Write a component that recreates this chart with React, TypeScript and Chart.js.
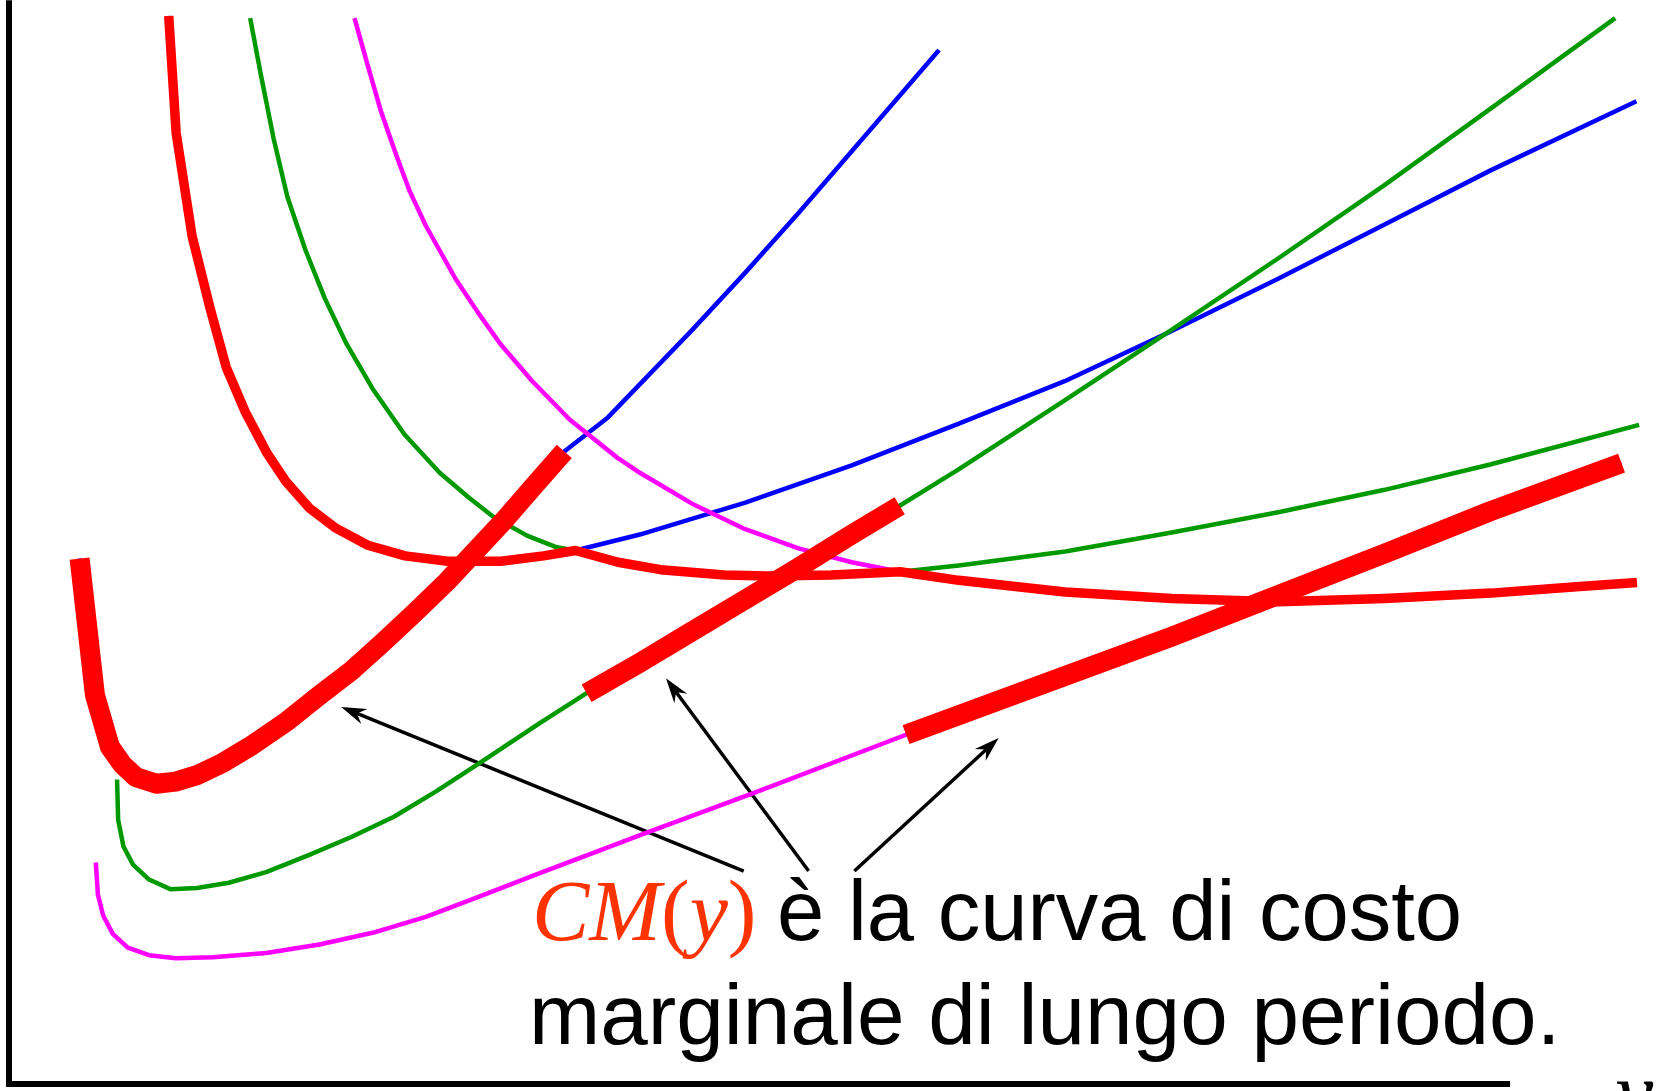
import { useEffect, useRef } from "react";
import { Chart, registerables } from "chart.js";

Chart.register(...registerables);

type Pt = [number, number];

// Quantity (x) and cost (y) in arbitrary units.
const X_MAX = 156;
const Y_MAX = 101.8;

// Long-run average cost: lower envelope of the three short-run average costs.
const costoMedioLungo: Pt[] = [
  [15.0, 100.3], [15.7, 89.3], [17.2, 79.6], [18.9, 72.8], [20.4, 67.3], [22.2, 63.1],
  [24.2, 59.3], [26.0, 56.6], [28.2, 54.1], [30.7, 52.2], [33.7, 50.6], [37.2, 49.6],
  [41.2, 49.1], [46.2, 49.1], [50.2, 49.6], [53.2, 50.1], [57.2, 49.0], [61.2, 48.3],
  [67.2, 47.8], [71.2, 47.7], [77.2, 47.8], [83.7, 48.1], [89.2, 47.3], [99.2, 46.2],
  [109.2, 45.6], [119.2, 45.3], [129.2, 45.6], [139.2, 46.1], [147.2, 46.7], [152.9, 47.1],
];

// Short-run average costs of plants 1, 2, 3.
const costoMedio1: Pt[] = [
  [15.0, 100.3], [15.7, 89.3], [17.2, 79.6], [18.9, 72.8], [20.4, 67.3], [22.2, 63.1],
  [24.2, 59.3], [26.0, 56.6], [28.2, 54.1], [30.7, 52.2], [33.7, 50.6], [37.2, 49.6],
  [41.2, 49.1], [46.2, 49.1], [50.2, 49.6], [53.2, 50.1], [59.25, 51.6], [69.15, 54.6],
  [79.15, 58.1], [89.15, 62.0], [99.15, 66.0], [109.15, 70.7], [119.15, 75.6],
  [129.15, 80.7], [139.15, 85.8], [152.85, 92.3],
];

const costoMedio2: Pt[] = [
  [22.65, 100.1], [23.65, 94.8], [24.85, 88.8], [26.15, 83.3], [27.85, 78.3], [29.65, 73.8],
  [31.65, 69.6], [34.15, 65.3], [37.15, 61.0], [40.45, 57.4], [43.15, 55.1], [45.45, 53.3],
  [48.65, 51.5], [51.45, 50.4], [53.15, 50.1], [57.2, 49.0], [61.2, 48.3], [67.2, 47.8],
  [71.2, 47.7], [77.2, 47.8], [83.7, 48.1], [89.2, 48.7], [99.2, 50.0], [109.2, 51.8],
  [119.2, 53.7], [129.2, 55.8], [139.2, 58.2], [153.1, 61.9],
];

const costoMedio3: Pt[] = [
  [32.45, 100.1], [33.65, 95.8], [34.95, 91.3], [36.35, 87.3], [37.65, 83.8], [39.15, 80.6],
  [41.95, 75.6], [44.15, 72.3], [46.15, 69.5], [49.15, 66.0], [52.65, 62.4], [54.65, 60.8],
  [57.15, 58.8], [59.25, 57.4], [64.15, 54.5], [69.15, 52.1], [74.15, 50.3], [79.15, 49.0],
  [83.65, 48.1], [89.2, 47.3], [99.2, 46.2], [109.2, 45.6], [119.2, 45.3], [129.2, 45.6],
  [139.2, 46.1], [147.2, 46.7], [152.9, 47.1],
];

// Short-run marginal costs of plants 1, 2, 3.
const costoMarginale1: Pt[] = [
  [6.63, 49.34], [8.07, 36.54], [9.48, 31.66], [10.65, 30.0], [11.95, 28.8], [13.85, 28.2],
  [15.65, 28.4], [17.65, 29.0], [20.15, 30.2], [22.65, 31.7], [26.15, 34.1], [29.15, 36.5],
  [32.15, 38.8], [35.15, 41.5], [38.15, 44.3], [41.15, 47.2], [43.75, 50.0], [46.65, 53.1],
  [49.15, 56.0], [52.15, 59.4], [56.25, 62.6], [64.15, 70.8], [69.15, 76.2], [74.15, 81.8],
  [79.15, 87.6], [84.15, 93.4], [87.35, 97.1],
];

const costoMarginale2: Pt[] = [
  [10.15, 28.6], [10.25, 24.8], [10.75, 22.3], [11.65, 20.6], [13.15, 19.2], [15.15, 18.3],
  [17.65, 18.4], [20.65, 18.9], [24.15, 19.9], [28.15, 21.5], [32.15, 23.2], [36.15, 25.1],
  [40.15, 27.5], [44.15, 30.1], [49.85, 33.9], [54.25, 36.7], [59.15, 39.5], [64.15, 42.5],
  [69.15, 45.5], [74.15, 48.5], [79.15, 51.6], [83.65, 54.3], [89.15, 57.7], [99.15, 64.2],
  [109.15, 70.8], [119.15, 77.5], [129.15, 84.4], [139.15, 91.6], [150.85, 100.1],
];

const costoMarginale3: Pt[] = [
  [8.15, 20.8], [8.35, 17.8], [8.85, 15.8], [9.75, 14.1], [11.15, 12.8], [13.15, 12.1],
  [15.65, 11.8], [19.15, 11.9], [24.15, 12.3], [29.15, 13.1], [34.15, 14.2], [39.15, 15.7],
  [44.15, 17.6], [49.85, 19.8], [60.15, 23.7], [69.85, 27.3], [84.25, 32.8], [99.15, 38.3],
  [109.15, 42.0], [119.15, 45.9], [129.15, 49.8], [139.15, 53.8], [151.45, 58.3],
];

// Quantity ranges where each short-run marginal cost is the long-run one.
const intervalliLungo: Pt[] = [
  [0, 52.2],
  [54.2, 83.7],
  [84.2, 152],
];

// Axes
const assePosX: Pt[] = [[0, 0], [140.7, 0]];
const assePosY: Pt[] = [[0, 0], [0, 101.5]];

// Arrows from the caption to the three long-run stretches.
const frecceDa: Pt[] = [[69.0, 20.0], [75.1, 20.0], [79.4, 20.0]];
const frecceA: Pt[] = [[31.2, 35.4], [61.7, 38.1], [92.95, 32.5]];

const etichettaCurva = ["C", "M", "(", "y", ")"];
const riga1 = "è la curva di costo";
const riga2 = "marginale di lungo periodo.";
const etichettaAsse = "y";

const ROSSO = "#ff0000";
const VERDE = "#009900";
const BLU = "#0000ff";
const MAGENTA = "#ff00ff";

const tratto = (curva: Pt[], da: number, a: number): Pt[] =>
  curva.filter(([q]) => q >= da - 1e-6 && q <= a + 1e-6);

const serie = (
  punti: Pt[],
  colore: string,
  spessore: number,
  ordine: number,
  cap: CanvasLineCap = "butt"
) => ({
  data: punti.map(([x, y]) => ({ x, y })),
  showLine: true,
  borderColor: colore,
  backgroundColor: colore,
  borderWidth: spessore,
  borderCapStyle: cap,
  borderJoinStyle: "round" as CanvasLineJoin,
  pointRadius: 0,
  pointHoverRadius: 0,
  tension: 0,
  fill: false,
  clip: false as const,
  order: ordine,
});

const annotazioni = {
  id: "annotazioni",
  beforeDatasetsDraw(chart: Chart) {
    const ctx = chart.ctx;
    const sx = chart.scales.x;
    const sy = chart.scales.y;
    ctx.save();
    ctx.strokeStyle = "#000";
    ctx.fillStyle = "#000";
    ctx.lineWidth = 3.5;
    frecceDa.forEach((da, i) => {
      const a = frecceA[i];
      const x0 = sx.getPixelForValue(da[0]);
      const y0 = sy.getPixelForValue(da[1]);
      const x1 = sx.getPixelForValue(a[0]);
      const y1 = sy.getPixelForValue(a[1]);
      const ang = Math.atan2(y1 - y0, x1 - x0);
      const ux = Math.cos(ang);
      const uy = Math.sin(ang);
      const L = 25;
      const W = 8;
      const N = 17;
      ctx.beginPath();
      ctx.moveTo(x0, y0);
      ctx.lineTo(x1 - ux * N, y1 - uy * N);
      ctx.stroke();
      ctx.beginPath();
      ctx.moveTo(x1, y1);
      ctx.lineTo(x1 - ux * L - uy * W, y1 - uy * L + ux * W);
      ctx.lineTo(x1 - ux * N, y1 - uy * N);
      ctx.lineTo(x1 - ux * L + uy * W, y1 - uy * L - ux * W);
      ctx.closePath();
      ctx.fill();
    });
    ctx.restore();
  },
  afterDraw(chart: Chart) {
    const ctx = chart.ctx;
    ctx.save();
    ctx.textAlign = "left";
    ctx.textBaseline = "alphabetic";

    // CM(y) in italic serif, parentheses upright
    ctx.fillStyle = "#ff3300";
    let x = 532;
    etichettaCurva.forEach((s) => {
      const corsivo = s !== "(" && s !== ")";
      ctx.font = `${corsivo ? "italic " : ""}86px "Liberation Serif", "Times New Roman", serif`;
      ctx.fillText(s, x, 940);
      x += ctx.measureText(s).width;
    });

    ctx.fillStyle = "#000";
    ctx.font = '85px "Liberation Sans", Arial, sans-serif';
    ctx.fillText(riga1, 777, 940);
    ctx.font = '85.5px "Liberation Sans", Arial, sans-serif';
    ctx.fillText(riga2, 529, 1044);

    // quantity axis label, mostly below the bottom edge
    ctx.font = 'italic 86px "Liberation Serif", "Times New Roman", serif';
    ctx.fillText(etichettaAsse, 1615, 1121);
    ctx.restore();
  },
};

export default function App() {
  const ref = useRef<HTMLCanvasElement | null>(null);

  useEffect(() => {
    if (!ref.current) return;
    const chart = new Chart(ref.current, {
      type: "scatter",
      data: {
        datasets: [
          serie(tratto(costoMarginale1, intervalliLungo[0][0], intervalliLungo[0][1]), ROSSO, 20, 0),
          serie(tratto(costoMarginale2, intervalliLungo[1][0], intervalliLungo[1][1]), ROSSO, 20, 0),
          serie(tratto(costoMarginale3, intervalliLungo[2][0], intervalliLungo[2][1]), ROSSO, 20, 0),
          serie(costoMedioLungo, ROSSO, 9.5, 1),
          serie(costoMedio3, MAGENTA, 4.5, 2),
          serie(costoMarginale3, MAGENTA, 4.5, 2),
          serie(costoMedio2, VERDE, 4.5, 3),
          serie(costoMarginale2, VERDE, 4.5, 3),
          serie(costoMedio1, BLU, 4.5, 4),
          serie(costoMarginale1, BLU, 4.5, 4),
          serie(assePosX, "#000", 6, 5, "square"),
          serie(assePosY, "#000", 6, 5, "square"),
        ],
      },
      options: {
        responsive: false,
        animation: false,
        devicePixelRatio: 1,
        events: [],
        layout: { padding: { left: 9, right: 0, top: 0, bottom: 7 } },
        scales: {
          x: { type: "linear", min: 0, max: X_MAX, display: false },
          y: { type: "linear", min: 0, max: Y_MAX, display: false },
        },
        plugins: {
          legend: { display: false },
          tooltip: { enabled: false },
        },
      },
      plugins: [annotazioni],
    });
    return () => chart.destroy();
  }, []);

  return (
    <div style={{ position: "absolute", left: 0, top: 0, width: 1670, height: 1091, background: "#fff" }}>
      <canvas ref={ref} width={1670} height={1091} style={{ display: "block" }} />
    </div>
  );
}
